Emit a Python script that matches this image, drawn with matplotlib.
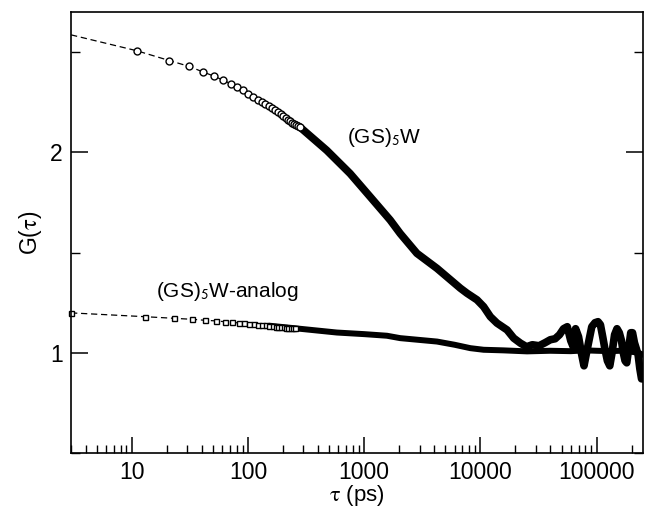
"""plot.py - G(tau) correlation decay, (GS)5W vs analog"""

import matplotlib
matplotlib.use("Agg")
import matplotlib.pyplot as plt
from matplotlib.ticker import FixedLocator, LogLocator, NullFormatter, FixedFormatter

plt.rcParams['font.family'] = ['Liberation Sans', 'DejaVu Sans']
plt.rcParams['mathtext.fontset'] = 'stix'

# (GS)5W : sampled points at short times (open circles)
w_tau_pts = [11, 21, 31, 41, 51, 61, 71, 81, 91, 101, 111, 121, 131, 141, 151,
             161, 171, 181, 191, 201, 211, 221, 231, 241, 251, 261, 271, 281]
w_g_pts = [2.507, 2.458, 2.429, 2.401, 2.380, 2.360, 2.342, 2.325, 2.310, 2.290,
           2.275, 2.263, 2.251, 2.240, 2.230, 2.220, 2.210, 2.200, 2.190, 2.180,
           2.171, 2.163, 2.154, 2.146, 2.140, 2.135, 2.130, 2.125]
# dashed guide at the start
w_tau_fit = [3, 11, 21, 31, 41, 51, 61, 71, 81, 101, 151, 201, 281]
w_g_fit = [2.586, 2.507, 2.458, 2.429, 2.401, 2.380, 2.360, 2.342, 2.325, 2.290,
           2.230, 2.180, 2.125]
# (GS)5W : dense part (drawn as a thick trace)
w_tau = [251, 281, 476, 757, 1127, 1675, 2042, 2844, 4236, 6730, 7680, 9360, 10670,
         12190, 13900, 16980, 19370, 22130, 25000, 28000, 32000, 36000, 40000,
         44000, 48000, 52000, 56000, 60000, 63000, 66000, 70000, 74000, 78000,
         82000, 86000, 91000, 97000, 103000, 108000, 113000, 118000, 124000,
         130000, 136000, 143000, 150000, 157000, 164000, 170000, 176000, 182000,
         190000, 197000, 204000, 212000, 220000, 228000, 236000, 244000, 250000]
w_g = [2.140, 2.125, 2.010, 1.894, 1.778, 1.662, 1.595, 1.496, 1.421, 1.322, 1.297,
       1.264, 1.230, 1.180, 1.148, 1.114, 1.073, 1.048, 1.030, 1.040, 1.035,
       1.050, 1.065, 1.070, 1.090, 1.120, 1.130, 1.060, 1.030, 1.120, 1.080,
       1.000, 0.935, 1.000, 1.060, 1.130, 1.150, 1.155, 1.140, 1.080, 1.020,
       0.960, 0.935, 1.000, 1.090, 1.120, 1.100, 1.060, 1.000, 0.960, 0.950,
       1.030, 1.100, 1.100, 1.050, 1.020, 0.990, 0.920, 0.870, 0.870]

# (GS)5W-analog : sampled points (open squares)
a_tau_pts = [3, 13, 23, 33, 43, 53, 63, 73, 83, 93, 103, 113, 123, 133, 143,
             153, 163, 173, 183, 193, 203, 213, 223, 233, 243, 253]
a_g_pts = [1.199, 1.180, 1.172, 1.167, 1.162, 1.159, 1.155, 1.152, 1.149, 1.147,
           1.145, 1.143, 1.141, 1.139, 1.137, 1.135, 1.133, 1.131, 1.130, 1.128,
           1.127, 1.126, 1.125, 1.124, 1.123, 1.122]
a_tau = [153, 300, 582, 1000, 1570, 2042, 4236, 6000, 8200, 10670, 15850, 25230,
         40000, 60000, 80000, 100000, 130000, 160000, 200000, 230000, 250000]
a_g = [1.135, 1.118, 1.101, 1.093, 1.085, 1.073, 1.056, 1.040, 1.023, 1.015,
       1.012, 1.007, 1.010, 1.008, 1.012, 1.010, 1.008, 1.010, 1.005, 1.000, 0.990]

xticks = [10, 100, 1000, 10000, 100000]
xticklabels = ["10", "100", "1000", "10000", "100000"]
yticks = [1, 2]
yminor = [0.5, 1.5, 2.5]

fig = plt.figure(figsize=(6.46, 5.11), dpi=100)
ax = fig.add_axes([0.110, 0.1135, 0.885, 0.863])

# dashed guides
ax.plot(w_tau_fit, w_g_fit, ls=(0, (5, 3)), color="black", lw=0.9)
ax.plot(a_tau_pts, a_g_pts, ls=(0, (5, 3)), color="black", lw=0.9)

# dense traces
ax.plot(w_tau, w_g, color="black", lw=5.5, solid_joinstyle="round",
        solid_capstyle="round")
ax.plot(a_tau, a_g, color="black", lw=4.3, solid_joinstyle="round",
        solid_capstyle="round")

# sampled markers
ax.plot(w_tau_pts, w_g_pts, ls="none", marker="o", ms=5, mfc="white",
        mec="black", mew=1.0)
ax.plot(a_tau_pts, a_g_pts, ls="none", marker="s", ms=3.6, mfc="white",
        mec="black", mew=1.0, clip_on=False)

ax.set_xscale("log")
ax.set_xlim(3, 250000)
ax.set_ylim(0.5, 2.7)

ax.xaxis.set_major_locator(FixedLocator(xticks))
ax.xaxis.set_major_formatter(FixedFormatter(xticklabels))
ax.xaxis.set_minor_locator(LogLocator(base=10, subs=range(2, 10), numticks=20))
ax.xaxis.set_minor_formatter(NullFormatter())
ax.yaxis.set_major_locator(FixedLocator(yticks))
ax.yaxis.set_minor_locator(FixedLocator(yminor))

ax.tick_params(axis="x", which="major", direction="in", length=11.5, width=1.1,
               top=False, labelsize=16.5, pad=6)
ax.tick_params(axis="x", which="minor", direction="in", length=6, width=1.0,
               top=False)
ax.tick_params(axis="y", which="major", direction="in", length=12, width=1.1,
               right=True, labelsize=16.5, pad=6)
ax.tick_params(axis="y", which="minor", direction="in", length=6.5, width=1.0,
               right=True)
for sp in ax.spines.values():
    sp.set_linewidth(1.2)

ax.set_xlabel(r"$\mathrm{\tau}$ (ps)", fontsize=16, labelpad=-1)
ax.set_ylabel(r"G($\mathrm{\tau}$)", fontsize=16.5, labelpad=4)

ax.text(710, 2.045, r"(GS)$_\mathsf{5}$W", fontsize=15, ha="left", va="baseline")
ax.text(16.1, 1.28, r"(GS)$_\mathsf{5}$W-analog", fontsize=15, ha="left",
        va="baseline")

fig.savefig("out.png", dpi=100)
